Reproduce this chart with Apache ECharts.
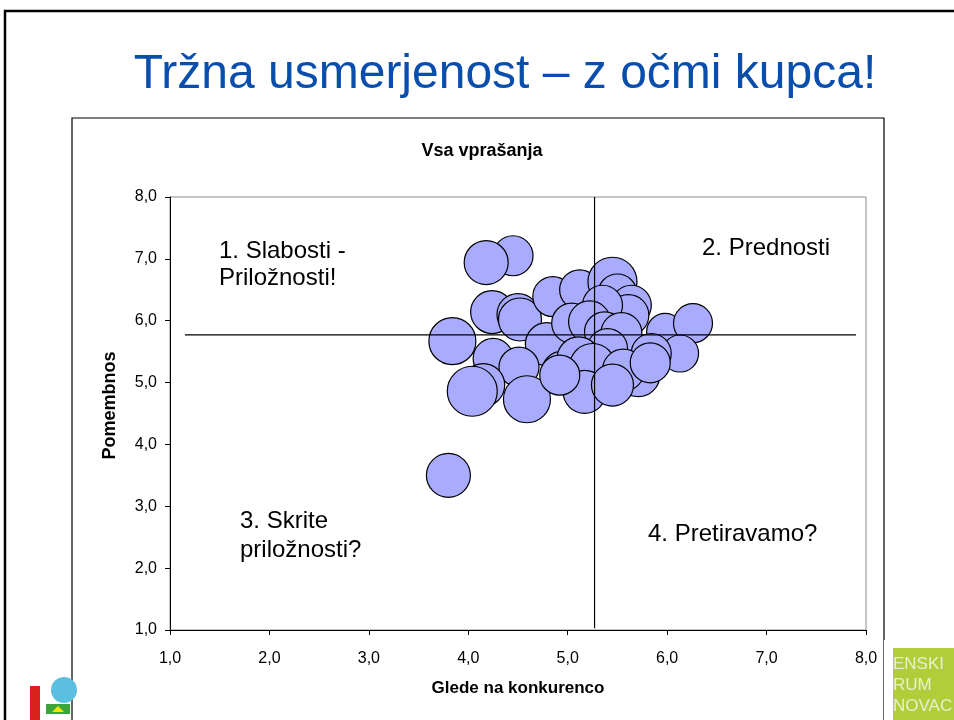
<!DOCTYPE html>
<html>
<head>
<meta charset="utf-8">
<script src="https://cdn.jsdelivr.net/npm/echarts@6/dist/echarts.min.js"></script>
<style>
  html, body { margin: 0; padding: 0; background: #fff; }
  #chart { width: 954px; height: 720px; }
</style>
</head>
<body>
<div id="chart"></div>
<script>
// podatki (odčitani s slike)
const bubbleX = [4.45, 4.18, 4.24, 4.50, 4.52, 4.85, 3.84, 4.79, 4.25, 4.51, 4.15, 4.04, 4.59, 4.95,
  5.12, 5.45, 5.50, 5.64, 5.61, 5.35, 5.04, 5.22, 5.37, 5.54, 5.98, 6.26, 6.13, 5.84,
  5.40, 5.11, 5.25, 5.17, 4.92, 5.71, 5.56, 5.83, 5.45, 3.80];
const bubbleY = [7.05, 6.94, 6.14, 6.10, 6.02, 6.39, 5.67, 5.62, 5.39, 5.25, 4.96, 4.86, 4.73, 5.17,
  6.50, 6.63, 6.44, 6.25, 6.09, 6.25, 5.96, 5.98, 5.82, 5.80, 5.82, 5.96, 5.47, 5.47,
  5.55, 5.39, 5.26, 4.85, 5.12, 5.12, 5.20, 5.32, 4.96, 3.50];
const bubbleSize = [4.0, 4.4, 4.3, 4.2, 4.3, 4.0, 4.7, 4.3, 4.0, 4.0, 4.3, 5.0, 4.7, 4.2,
  4.0, 4.9, 3.9, 4.0, 4.1, 4.0, 4.0, 4.2, 4.0, 4.1, 3.7, 3.9, 3.7, 4.0,
  4.0, 4.3, 4.6, 4.3, 4.0, 4.3, 4.2, 4.0, 4.2, 4.4];

const vLine = [[5.27, 1.03], [5.27, 8.0]];
const hLine = [[1.15, 5.77], [7.9, 5.77]];

const xMin = 1, xMax = 8, yMin = 1, yMax = 8;

const chart = echarts.init(document.getElementById('chart'));

const bubbles = bubbleX.map((x, i) => [x, bubbleY[i], bubbleSize[i]]);
const tick = v => v.toFixed(1).replace('.', ',');
const font = 'Liberation Sans, Arial, sans-serif';

const option = {
  backgroundColor: '#fff',
  animation: false,
  textStyle: { fontFamily: font },
  grid: {
    left: 170, right: 88, top: 197, bottom: 90,
    show: true, borderColor: '#8c8c8c', borderWidth: 1
  },
  xAxis: {
    type: 'value', min: xMin, max: xMax, interval: 1,
    name: 'Glede na konkurenco', nameLocation: 'middle', nameGap: 50,
    nameTextStyle: { fontSize: 17, fontWeight: 'bold', color: '#000', fontFamily: font },
    axisLine: { lineStyle: { color: '#000', width: 1 } },
    axisTick: { length: 5, lineStyle: { color: '#000' } },
    axisLabel: { formatter: tick, color: '#000', fontSize: 16, margin: 21, fontFamily: font },
    splitLine: { show: false }
  },
  yAxis: {
    type: 'value', min: yMin, max: yMax, interval: 1,
    name: 'Pomembnos', nameLocation: 'middle', nameGap: 51,
    nameTextStyle: { fontSize: 18, fontWeight: 'bold', color: '#000', fontFamily: font,
      padding: [0, 0, 0, 16] },
    axisLine: { show: true, lineStyle: { color: '#000', width: 1 } },
    axisTick: { show: true, length: 5, lineStyle: { color: '#000' } },
    axisLabel: { formatter: tick, color: '#000', fontSize: 16, margin: 13, fontFamily: font },
    splitLine: { show: false }
  },
  series: [
    {
      type: 'scatter',
      data: bubbles,
      symbolSize: d => d[2] * 10,
      itemStyle: { color: '#a9abff', borderColor: '#000', borderWidth: 1.2, opacity: 1 },
      z: 2
    },
    {
      type: 'line', data: vLine, symbol: 'none',
      lineStyle: { color: '#000', width: 1.2 }, z: 5
    },
    {
      type: 'line', data: hLine, symbol: 'none',
      lineStyle: { color: '#000', width: 1.2 }, z: 5
    }
  ],
  graphic: [
    // okvir prosojnice
    { type: 'rect', shape: { x: 5, y: 11, width: 960, height: 720 },
      style: { fill: 'none', stroke: '#000', lineWidth: 2.5 }, z: -10 },
    // okvir grafa
    { type: 'rect', shape: { x: 72, y: 118, width: 812, height: 620 },
      style: { fill: 'none', stroke: '#000', lineWidth: 1.2 }, z: -9 },
    { type: 'text', style: { text: 'Tržna usmerjenost – z očmi kupca!', fill: '#0a4ead',
        font: '48px ' + font, x: 505, y: 99, textAlign: 'center', textVerticalAlign: 'bottom' } },
    { type: 'text', style: { text: 'Vsa vprašanja', x: 482, y: 160, textAlign: 'center',
        textVerticalAlign: 'bottom', font: 'bold 18px ' + font, fill: '#000' } },
    { type: 'text', style: { text: '1. Slabosti -', x: 219, y: 263, textVerticalAlign: 'bottom',
        font: '24px ' + font, fill: '#000' } },
    { type: 'text', style: { text: 'Priložnosti!', x: 219, y: 290, textVerticalAlign: 'bottom',
        font: '24px ' + font, fill: '#000' } },
    { type: 'text', style: { text: '2. Prednosti', x: 702, y: 260, textVerticalAlign: 'bottom',
        font: '24px ' + font, fill: '#000' } },
    { type: 'text', style: { text: '3. Skrite', x: 240, y: 533, textVerticalAlign: 'bottom',
        font: '24px ' + font, fill: '#000' } },
    { type: 'text', style: { text: 'priložnosti?', x: 240, y: 562, textVerticalAlign: 'bottom',
        font: '24px ' + font, fill: '#000' } },
    { type: 'text', style: { text: '4. Pretiravamo?', x: 648, y: 546, textVerticalAlign: 'bottom',
        font: '24px ' + font, fill: '#000' } },
    // logotip levo spodaj
    { type: 'rect', shape: { x: 30, y: 686, width: 10, height: 34 }, style: { fill: '#d8221e' } },
    { type: 'circle', shape: { cx: 64, cy: 690, r: 13 }, style: { fill: '#5bbfe0' } },
    { type: 'rect', shape: { x: 46, y: 704, width: 24, height: 10 }, style: { fill: '#3aa53a' } },
    { type: 'polygon', shape: { points: [[52, 712], [58, 706], [64, 712]] }, style: { fill: '#f2e600' } },
    // logotip desno spodaj
    { type: 'rect', shape: { x: 893, y: 648, width: 61, height: 72 }, style: { fill: '#b2cd3a' } },
    { type: 'text', style: { text: 'ENSKI\nRUM\nNOVAC', x: 893, y: 654, font: '17px ' + font,
        lineHeight: 21, fill: '#e8efcf' } },
    { type: 'rect', shape: { x: 884, y: 640, width: 9, height: 80 }, style: { fill: '#fff' } }
  ]
};

chart.setOption(option);
</script>
</body>
</html>
